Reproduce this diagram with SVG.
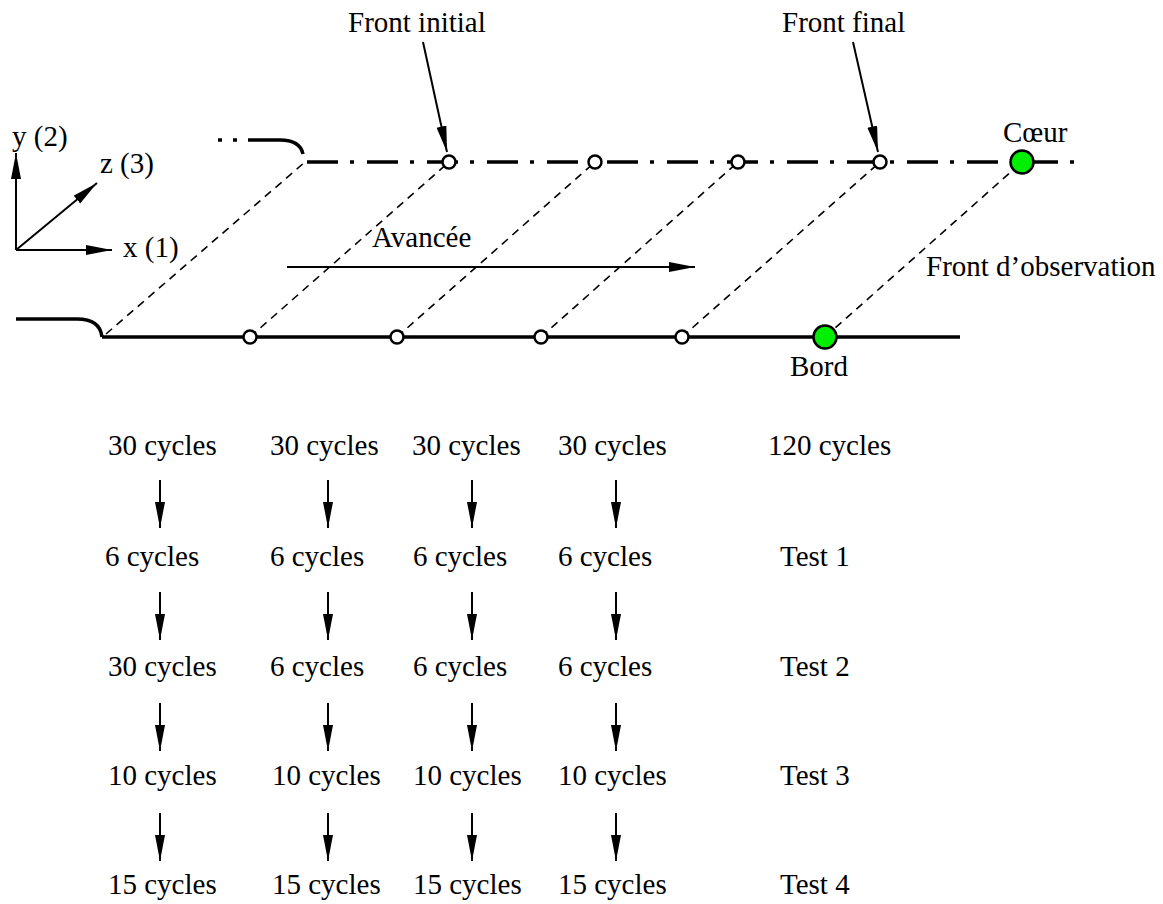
<svg xmlns="http://www.w3.org/2000/svg" width="1163" height="904" viewBox="0 0 1163 904">
<defs>
<marker id="ah" markerUnits="userSpaceOnUse" markerWidth="28" markerHeight="12" refX="26" refY="5" orient="auto">
<path d="M0,0 L26,5 L0,10 z" fill="#000"/>
</marker>
</defs>
<style>
text{font-family:"Liberation Serif","Times New Roman",serif;font-size:29px;fill:#000}
.arr{stroke:#000;stroke-width:2;fill:none;marker-end:url(#ah)}
.dash{stroke:#000;stroke-width:1.6;stroke-dasharray:8 6;fill:none}
.thick{stroke:#000;stroke-width:3.5;fill:none}
.open{fill:#fff;stroke:#000;stroke-width:2.5}
.green{fill:#00ee00;stroke:#000;stroke-width:2.5}
</style>
<rect width="1163" height="904" fill="#fff"/>

<g id="axes">
<line class="arr" x1="16" y1="250" x2="16" y2="153"/>
<line class="arr" x1="16" y1="250" x2="112" y2="250"/>
<line class="arr" x1="16" y1="250" x2="97" y2="183"/>
<text x="12" y="146">y (2)</text>
<text x="100" y="173">z (3)</text>
<text x="123" y="257">x (1)</text>
</g>

<g id="connectors">
<line class="dash" x1="106" y1="334" x2="305" y2="162"/>
<line class="dash" x1="250" y1="337" x2="449" y2="162"/>
<line class="dash" x1="397" y1="337" x2="595" y2="162"/>
<line class="dash" x1="541" y1="337" x2="738" y2="162"/>
<line class="dash" x1="682" y1="337" x2="880" y2="162"/>
<line class="dash" x1="825" y1="337" x2="1022" y2="162"/>
<line class="arr" x1="423" y1="42" x2="447" y2="152"/>
<line class="arr" x1="853" y1="42" x2="878" y2="152"/>
<line class="arr" x1="287" y1="267" x2="695" y2="267"/>
</g>

<g id="front-coeur">
<path d="M218,140 h4 M233,140 h4" stroke="#000" stroke-width="3.5"/>
<path class="thick" d="M248,140 L280,140 Q300,140 303,154"/>
<line class="thick" x1="307" y1="162" x2="1076" y2="162" stroke-dasharray="31 12 4 13"/>
</g>

<g id="front-bord">
<path class="thick" d="M16,319 L77,319 Q100,319 102,337"/>
<line class="thick" x1="102" y1="337" x2="960" y2="337"/>
</g>

<g id="points-top">
<circle class="open" cx="449" cy="162" r="6.5"/>
<circle class="open" cx="595" cy="162" r="6.5"/>
<circle class="open" cx="738" cy="162" r="6.5"/>
<circle class="open" cx="880" cy="162" r="6.5"/>
<circle class="green" cx="1022" cy="162" r="11.5"/>
</g>
<g id="points-bottom">
<circle class="open" cx="250" cy="337" r="6.5"/>
<circle class="open" cx="397" cy="337" r="6.5"/>
<circle class="open" cx="541" cy="337" r="6.5"/>
<circle class="open" cx="682" cy="337" r="6.5"/>
<circle class="green" cx="825" cy="337" r="11.5"/>
</g>

<g id="labels">
<text x="348" y="32">Front initial</text>
<text x="782" y="32">Front final</text>
<text x="1003" y="142">Cœur</text>
<text x="372" y="247">Avancée</text>
<text x="926" y="276">Front d’observation</text>
<text x="790" y="376">Bord</text>
</g>

<g id="table">
<text x="108" y="455">30 cycles</text>
<text x="270" y="455">30 cycles</text>
<text x="412" y="455">30 cycles</text>
<text x="558" y="455">30 cycles</text>
<text x="768" y="455">120 cycles</text>

<text x="105" y="566">6 cycles</text>
<text x="270" y="566">6 cycles</text>
<text x="413" y="566">6 cycles</text>
<text x="558" y="566">6 cycles</text>
<text x="780" y="566">Test 1</text>

<text x="108" y="676">30 cycles</text>
<text x="270" y="676">6 cycles</text>
<text x="413" y="676">6 cycles</text>
<text x="558" y="676">6 cycles</text>
<text x="780" y="676">Test 2</text>

<text x="108" y="785">10 cycles</text>
<text x="272" y="785">10 cycles</text>
<text x="413" y="785">10 cycles</text>
<text x="558" y="785">10 cycles</text>
<text x="780" y="785">Test 3</text>

<text x="108" y="894">15 cycles</text>
<text x="272" y="894">15 cycles</text>
<text x="413" y="894">15 cycles</text>
<text x="558" y="894">15 cycles</text>
<text x="780" y="894">Test 4</text>
</g>

<g id="table-arrows">
<line class="arr" x1="160" y1="480" x2="160" y2="528"/>
<line class="arr" x1="328" y1="480" x2="328" y2="528"/>
<line class="arr" x1="472" y1="480" x2="472" y2="528"/>
<line class="arr" x1="616" y1="480" x2="616" y2="528"/>
<line class="arr" x1="160" y1="592" x2="160" y2="640"/>
<line class="arr" x1="328" y1="592" x2="328" y2="640"/>
<line class="arr" x1="472" y1="592" x2="472" y2="640"/>
<line class="arr" x1="616" y1="592" x2="616" y2="640"/>
<line class="arr" x1="160" y1="703" x2="160" y2="751"/>
<line class="arr" x1="328" y1="703" x2="328" y2="751"/>
<line class="arr" x1="472" y1="703" x2="472" y2="751"/>
<line class="arr" x1="616" y1="703" x2="616" y2="751"/>
<line class="arr" x1="160" y1="813" x2="160" y2="861"/>
<line class="arr" x1="328" y1="813" x2="328" y2="861"/>
<line class="arr" x1="472" y1="813" x2="472" y2="861"/>
<line class="arr" x1="616" y1="813" x2="616" y2="861"/>
</g>
</svg>
